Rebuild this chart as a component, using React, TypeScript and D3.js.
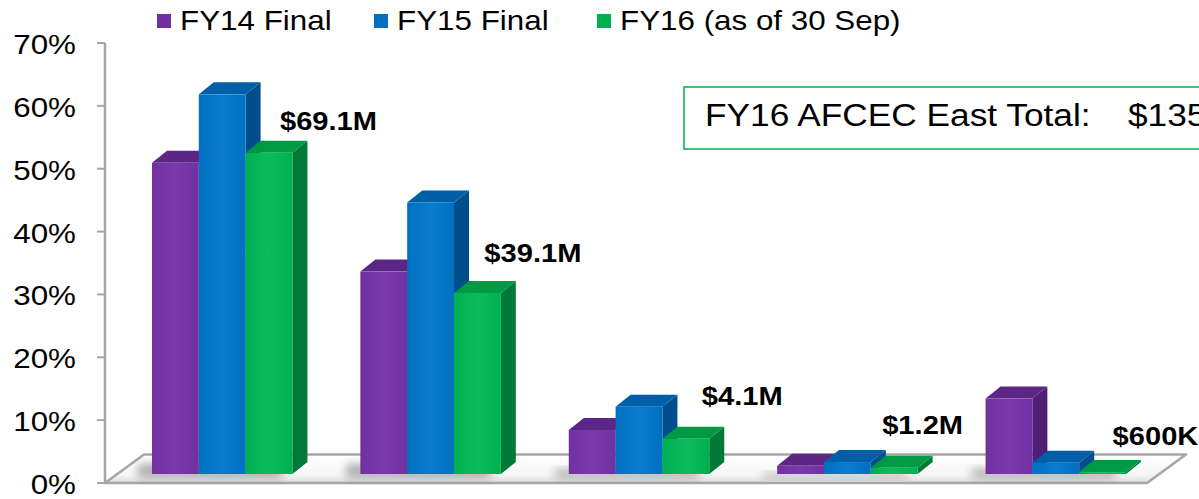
import React, { useEffect, useRef } from 'react';
import * as d3 from 'd3';

// group totals (shown as bold labels) and the share of each fiscal year
const categories = ['$69.1M', '$39.1M', '$4.1M', '$1.2M', '$600K'];
const seriesNames = ['FY14 Final', 'FY15 Final', 'FY16 (as of 30 Sep)'];
const fy14 = [0.495, 0.322, 0.07, 0.013, 0.12];
const fy15 = [0.604, 0.432, 0.107, 0.019, 0.018];
const fy16 = [0.511, 0.288, 0.056, 0.01, 0.003];
const yTicks = [0, 0.1, 0.2, 0.3, 0.4, 0.5, 0.6, 0.7];
const totalLabel = 'FY16 AFCEC East Total:';
const totalValue = '$135';

const W = 1199;
const H = 499;
const FONT = "'Liberation Sans', Arial, sans-serif";
const SX = 1.12; // the original is a bit stretched horizontally

const colors = {
  front: ['#7030A0', '#0070C0', '#00B050'],
  light: ['#7B3AAC', '#0A7CCC', '#0ABC5C'],
  top: ['#5C2687', '#005FA6', '#009A44'],
  side: ['#4E1F74', '#004E8C', '#007A36'],
};

// hand-placed annotation nudges (x from group start, y lift above green bar)
const labelNudge = [[128, -23], [124, -31], [133, -34], [105, -34], [127, -27]];

const App: React.FC = () => {
  const ref = useRef<SVGSVGElement>(null);

  useEffect(() => {
    if (!ref.current) return;
    const svg = d3.select(ref.current);
    svg.selectAll('*').remove();

    const axisX = 105;
    const floorRight = 1147;
    const y = d3.scaleLinear().domain([0, 0.7]).range([483, 43]);
    const x = d3.scaleBand<string>().domain(categories).range([axisX, floorRight])
      .paddingInner(0.326).paddingOuter(0.163);
    const xs = d3.scaleBand<string>().domain(seriesNames).range([0, x.bandwidth()]);

    const bdx = 13, bdy = -9;   // bars sit a bit into the floor
    const ddx = 15, ddy = -12;  // bar depth
    const fdx = 39, fdy = -28.5; // floor depth

    const defs = svg.append('defs');
    const floorGrad = defs.append('linearGradient').attr('id', 'floorGrad')
      .attr('x1', 0).attr('y1', 0).attr('x2', 0).attr('y2', 1);
    floorGrad.append('stop').attr('offset', '0%').attr('stop-color', '#ffffff');
    floorGrad.append('stop').attr('offset', '70%').attr('stop-color', '#f6f6f6');
    floorGrad.append('stop').attr('offset', '100%').attr('stop-color', '#dcdcdc');
    defs.append('filter').attr('id', 'blur').attr('x', '-50%').attr('y', '-50%')
      .attr('width', '200%').attr('height', '200%')
      .append('feGaussianBlur').attr('stdDeviation', 5);
    colors.front.forEach((c, i) => {
      const g = defs.append('linearGradient').attr('id', `front${i}`)
        .attr('x1', 0).attr('y1', 0).attr('x2', 1).attr('y2', 0);
      g.append('stop').attr('offset', '0%').attr('stop-color', c);
      g.append('stop').attr('offset', '50%').attr('stop-color', colors.light[i]);
      g.append('stop').attr('offset', '100%').attr('stop-color', c);
    });

    // floor
    const fy = y(0);
    svg.append('polygon')
      .attr('points', [[axisX, fy], [floorRight, fy], [floorRight + fdx, fy + fdy], [axisX + fdx, fy + fdy]]
        .map(p => p.join(',')).join(' '))
      .attr('fill', 'url(#floorGrad)')
      .attr('stroke', '#a6a6a6')
      .attr('stroke-width', 2.5)
      .attr('stroke-linejoin', 'round');

    // soft shadows under the bars
    const series = [fy14, fy15, fy16];
    categories.forEach((c, ci) => {
      const gx = x(c)! + bdx;
      const maxV = d3.max(series, s => s[ci])!;
      const h = Math.min(14, 4 + maxV * 40);
      svg.append('rect')
        .attr('x', gx - 14)
        .attr('y', y(0) + bdy - h + 4)
        .attr('width', x.bandwidth() + 4)
        .attr('height', h)
        .attr('fill', '#7a7a7a')
        .attr('opacity', 0.6)
        .attr('filter', 'url(#blur)');
    });

    // y axis
    svg.append('line')
      .attr('x1', axisX).attr('x2', axisX)
      .attr('y1', y(0.7)).attr('y2', y(0))
      .attr('stroke', '#a6a6a6').attr('stroke-width', 2.5);
    yTicks.forEach(t => {
      svg.append('line')
        .attr('x1', axisX - 8).attr('x2', axisX)
        .attr('y1', y(t)).attr('y2', y(t))
        .attr('stroke', '#a6a6a6').attr('stroke-width', 2);
      svg.append('text')
        .attr('transform', `translate(76,${y(t) + 11}) scale(${SX},1)`)
        .attr('text-anchor', 'end')
        .style('font-family', FONT)
        .style('font-size', '28px')
        .attr('fill', '#000')
        .text(d3.format('.0%')(t));
    });

    // bars
    const poly = (pts: number[][]) => pts.map(p => p.join(',')).join(' ');
    categories.forEach((c, ci) => {
      seriesNames.forEach((s, si) => {
        const v = series[si][ci];
        const x0 = x(c)! + xs(s)! + bdx;
        const x1 = x0 + xs.bandwidth();
        const yb = y(0) + bdy;
        const yt = y(v) + bdy;
        const g = svg.append('g');
        g.append('polygon')
          .attr('points', poly([[x1, yt], [x1 + ddx, yt + ddy], [x1 + ddx, yb + ddy], [x1, yb]]))
          .attr('fill', colors.side[si]);
        g.append('polygon')
          .attr('points', poly([[x0, yt], [x1, yt], [x1 + ddx, yt + ddy], [x0 + ddx, yt + ddy]]))
          .attr('fill', colors.top[si]);
        g.append('rect')
          .attr('x', x0).attr('y', yt)
          .attr('width', xs.bandwidth()).attr('height', yb - yt)
          .attr('fill', `url(#front${si})`);
      });
    });

    // group total labels
    categories.forEach((c, ci) => {
      const [nx, ny] = labelNudge[ci];
      svg.append('text')
        .attr('transform', `translate(${x(c)! + bdx + nx},${y(fy16[ci]) + bdy + ny}) scale(${SX},1)`)
        .style('font-family', FONT)
        .style('font-size', '26px')
        .style('font-weight', 'bold')
        .attr('fill', '#000')
        .text(c);
    });

    // legend
    const legendX = [157, 374, 597];
    seriesNames.forEach((s, si) => {
      svg.append('rect')
        .attr('x', legendX[si]).attr('y', 14)
        .attr('width', 14).attr('height', 14)
        .attr('fill', colors.front[si]);
      svg.append('text')
        .attr('transform', `translate(${legendX[si] + 23},30) scale(${SX},1)`)
        .style('font-family', FONT)
        .style('font-size', '28px')
        .attr('fill', '#000')
        .text(s);
    });

    // total box
    svg.append('rect')
      .attr('x', 684).attr('y', 87)
      .attr('width', 600).attr('height', 62)
      .attr('fill', '#fff')
      .attr('stroke', '#00B050')
      .attr('stroke-width', 1.5);
    svg.append('text')
      .attr('transform', `translate(705,126) scale(${SX},1)`)
      .style('font-family', FONT)
      .style('font-size', '31.5px')
      .attr('fill', '#000')
      .text(totalLabel);
    svg.append('text')
      .attr('transform', `translate(1128,126) scale(${SX},1)`)
      .style('font-family', FONT)
      .style('font-size', '31.5px')
      .attr('fill', '#000')
      .text(totalValue);
  }, []);

  return (
    <svg
      ref={ref}
      width={W}
      height={H}
      style={{ position: 'absolute', left: 0, top: 0, background: '#fff' }}
    />
  );
};

export default App;
